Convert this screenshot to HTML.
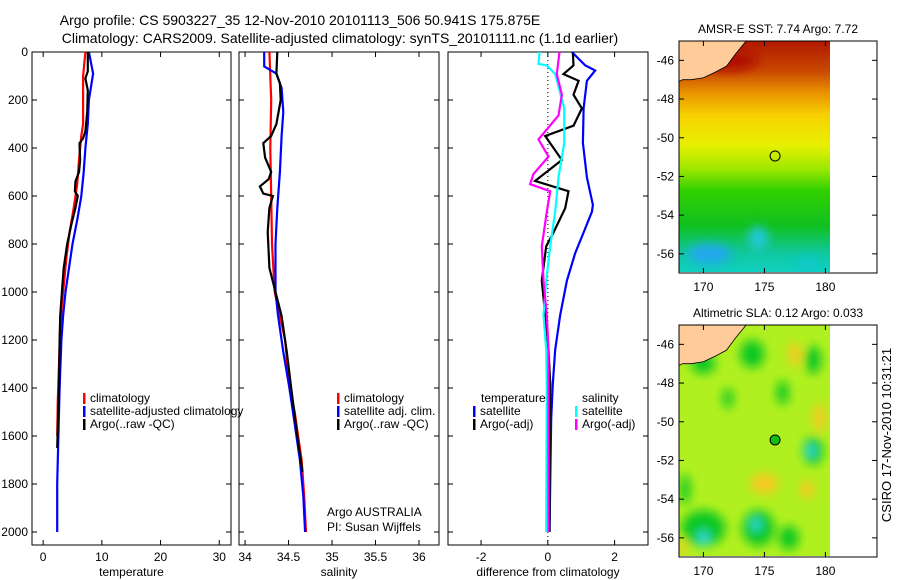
<!DOCTYPE html>
<html><head><meta charset="utf-8"><style>
body{margin:0;background:#fff;}
svg{display:block;font-family:"Liberation Sans",sans-serif;}
</style></head><body>
<svg id="c" width="900" height="580" viewBox="0 0 900 580">
<defs>
<linearGradient id="sstg" x1="0" y1="0" x2="0" y2="1">
<stop offset="0" stop-color="#b01800"/><stop offset="0.13" stop-color="#c84800"/><stop offset="0.22" stop-color="#e89000"/><stop offset="0.32" stop-color="#f8d000"/><stop offset="0.45" stop-color="#e8f000"/><stop offset="0.55" stop-color="#a0e800"/><stop offset="0.65" stop-color="#30d000"/><stop offset="0.8" stop-color="#10c020"/><stop offset="0.92" stop-color="#10c8a0"/><stop offset="1" stop-color="#10d0c0"/>
</linearGradient>
<filter id="bl" x="-50%" y="-50%" width="200%" height="200%"><feGaussianBlur stdDeviation="5"/></filter>
<clipPath id="m1"><rect x="679" y="41" width="151" height="231"/></clipPath>
<clipPath id="m2"><rect x="679" y="325" width="151" height="231"/></clipPath>
</defs>
<text x="300" y="25" font-size="14" text-anchor="middle">Argo profile: CS 5903227_35 12-Nov-2010 20101113_506 50.941S 175.875E</text>
<text x="340" y="43" font-size="14" text-anchor="middle">Climatology: CARS2009. Satellite-adjusted climatology: synTS_20101111.nc (1.1d earlier)</text>
<g id="panels"></g>
<g id="maps"></g>
<text transform="translate(891,435) rotate(-90)" font-size="13" text-anchor="middle">CSIRO 17-Nov-2010 10:31:21</text>
</svg>
<script>
// ---- data ----
const depthTicks=[0,200,400,600,800,1000,1200,1400,1600,1800,2000];
const tempTicks=[0,10,20,30];
const salTicks=[34,34.5,35,35.5,36];
const diffTicks=[-2,0,2];
const tClimDepth=[0,100,300,350,450,550,650,750,850,950,1050,1150,1300,1450,1600];
const tClim=[7.2,6.8,6.8,6.5,6.1,5.8,5.2,4.5,4.0,3.6,3.2,2.9,2.7,2.5,2.4];
const tSatDepth=[0,90,200,300,400,500,600,700,800,900,1000,1100,1200,1400,1600,1800,2000];
const tSat=[7.8,8.5,7.8,7.6,7.2,6.9,6.5,5.8,5.0,4.4,3.8,3.4,3.1,2.8,2.6,2.4,2.4];
const tArgoDepth=[0,80,110,160,250,330,360,380,450,500,540,580,600,650,720,800,900,1000,1100,1200,1400,1650];
const tArgo=[7.6,7.6,7.2,7.6,7.5,7.2,6.8,6.2,6.3,6.1,5.5,5.4,5.9,5.5,4.8,4.1,3.5,3.2,2.9,2.8,2.7,2.4];
const sClimDepth=[0,200,400,600,800,1000,1100,1200,1400,1500,1600,1700,1850,2000];
const sClim=[34.28,34.30,34.29,34.30,34.31,34.34,34.40,34.46,34.51,34.57,34.61,34.65,34.68,34.70];
const sSatDepth=[0,60,90,150,250,350,500,650,800,1000,1100,1250,1400,1550,1700,1850,2000];
const sSat=[34.22,34.22,34.36,34.42,34.44,34.42,34.40,34.37,34.35,34.35,34.38,34.44,34.51,34.57,34.63,34.67,34.69];
const sArgoDepth=[0,90,130,200,300,350,380,440,500,530,560,590,600,650,750,900,1000,1100,1250,1400,1600,1750];
const sArgo=[34.37,34.36,34.40,34.41,34.36,34.30,34.21,34.23,34.30,34.27,34.17,34.21,34.32,34.28,34.26,34.28,34.35,34.42,34.48,34.53,34.60,34.66];
const dTSatDepth=[0,56,77,120,235,379,522,637,666,752,838,953,1096,1240,1383,1527,2000];
const dTSat=[0.72,1.12,1.42,1.17,1.07,1.05,1.17,1.35,1.32,1.07,0.82,0.57,0.37,0.22,0.15,0.10,0.05];
const dTArgoDepth=[6,56,92,120,178,235,307,350,450,537,580,651,752,809,953,1096,1240,1383,2000];
const dTArgo=[0.75,0.77,0.47,0.92,0.77,1.02,0.77,-0.08,0.42,-0.38,0.62,0.52,0.17,-0.05,-0.18,-0.08,0.02,0.07,0.05];
const dSSatDepth=[0,49,56,92,235,379,522,666,809,953,1096,1240,1383,2000];
const dSSat=[-0.25,-0.28,-0.03,0.22,0.49,0.49,0.32,0.22,0.07,-0.05,-0.13,-0.05,-0.03,-0.05];
const dSArgoDepth=[0,92,178,264,364,436,508,551,580,666,809,953,1096,1240,1383,2000];
const dSArgo=[0.35,0.27,0.42,0.32,-0.28,0.02,-0.43,-0.53,0.07,-0.03,-0.18,-0.13,-0.03,0.02,0.02,0.02];
const sstLatTicks=[-46,-48,-50,-52,-54,-56];
const lonTicks=[170,175,180];
const argoLon=175.875, argoLat=-50.941;

// ---- helpers ----
const NS='http://www.w3.org/2000/svg';
function mk(tag,attrs,parent){const e=document.createElementNS(NS,tag);for(const k in attrs)e.setAttribute(k,attrs[k]);parent.appendChild(e);return e;}
const P=document.getElementById('panels');
const Y0=52,Y1=532,FB=545;
const yD=d=>Y0+(Y1-Y0)*d/2000;

function panel(x0,x1,xmin,xmax,ticks,label,name){
  const g=mk('g',{},P);
  
  
  const sx=v=>x0+(x1-x0)*(v-xmin)/(xmax-xmin);
  const box=mk('rect',{x:x0,y:Y0,width:x1-x0,height:FB-Y0,fill:'none',stroke:'#000','stroke-width':1},g);
  
  
  ticks.forEach(t=>{
    const X=sx(t);
    mk('line',{x1:X,x2:X,y1:Y0,y2:Y0+5,stroke:'#000'},g);
    mk('line',{x1:X,x2:X,y1:FB,y2:FB-5,stroke:'#000'},g);
    const tl=mk('text',{x:X,y:561,'font-size':12,'text-anchor':'middle'},g);
    tl.textContent=t;
    
    
  });
  depthTicks.forEach(d=>{
    mk('line',{x1:x0,x2:x0+5,y1:yD(d),y2:yD(d),stroke:'#000'},g);
    mk('line',{x1:x1,x2:x1-5,y1:yD(d),y2:yD(d),stroke:'#000'},g);
  });
  const xl=mk('text',{x:(x0+x1)/2,y:576,'font-size':12,'text-anchor':'middle'},g);
  xl.textContent=label;
  
  
  return {g,sx};
}
function series(p,vals,depths,color,name){
  const pts=vals.map((v,i)=>p.sx(v).toFixed(1)+','+yD(depths[i]).toFixed(1)).join(' ');
  const l=mk('polyline',{points:pts,fill:'none',stroke:color,'stroke-width':2.2},p.g);
  
  
}
function legend(g,x,y,color,text){
  const r=mk('rect',{x:x,y:y-9,width:2.5,height:11,fill:color},g);
  
  
  const t=mk('text',{x:x+7,y:y,'font-size':12},g);
  t.textContent=text;
  
  
}
depthTicks.forEach(d=>{
  const t=mk('text',{x:28,y:yD(d)+4,'font-size':12,'text-anchor':'end'},P);
  t.textContent=d;
  
  
});

const p1=panel(32,231,-1.9,32,tempTicks,'temperature','temperature-panel');
series(p1,tClim,tClimDepth,'#f00','temp-climatology-line');
series(p1,tSat,tSatDepth,'#00f','temp-satellite-line');
series(p1,tArgo,tArgoDepth,'#000','temp-argo-line');
legend(p1.g,83,402,'#f00','climatology');
legend(p1.g,83,415,'#00f','satellite-adjusted climatology');
legend(p1.g,83,428,'#000','Argo(..raw -QC)');

const p2=panel(239,439,33.93,36.23,salTicks,'salinity','salinity-panel');
series(p2,sClim,sClimDepth,'#f00','sal-climatology-line');
series(p2,sSat,sSatDepth,'#00f','sal-satellite-line');
series(p2,sArgo,sArgoDepth,'#000','sal-argo-line');
legend(p2.g,337,402,'#f00','climatology');
legend(p2.g,337,415,'#00f','satellite adj. clim.');
legend(p2.g,337,428,'#000','Argo(..raw -QC)');
let t=mk('text',{x:327,y:516,'font-size':12},p2.g);t.textContent='Argo AUSTRALIA';


t=mk('text',{x:327,y:531,'font-size':12},p2.g);t.textContent='PI: Susan Wijffels';



const p3=panel(448,648,-2.99,3.0,diffTicks,'difference from climatology','difference-panel');
const zl=mk('line',{x1:p3.sx(0),x2:p3.sx(0),y1:Y0,y2:FB,stroke:'#000','stroke-dasharray':'1,3'},p3.g);


series(p3,dTSat,dTSatDepth,'#00f','diff-temp-satellite-line');
series(p3,dTArgo,dTArgoDepth,'#000','diff-temp-argo-line');
series(p3,dSSat,dSSatDepth,'#0ff','diff-sal-satellite-line');
series(p3,dSArgo,dSArgoDepth,'#f0f','diff-sal-argo-line');
t=mk('text',{x:481,y:402,'font-size':12},p3.g);t.textContent='temperature';


t=mk('text',{x:582,y:402,'font-size':12},p3.g);t.textContent='salinity';


legend(p3.g,473,415,'#00f','satellite');
legend(p3.g,473,428,'#000','Argo(-adj)');
legend(p3.g,575,415,'#0ff','satellite');
legend(p3.g,575,428,'#f0f','Argo(-adj)');

// ---- maps ----
const M=document.getElementById('maps');
function map(top,title,name,clip,fill){
  const g=mk('g',{},M);
  
  
  const lx=v=>679+(v-168)*12.2;
  const ly=v=>top+(-45-v)*19.35;
  const fg=mk('g',{'clip-path':'url(#'+clip+')'},g);
  fill(fg,lx,ly);
  const land=mk('path',{d:`M679 ${top} L${lx(173.5)} ${top} L${lx(172.6)} ${ly(-45.7)} L${lx(171.9)} ${ly(-46.3)} L${lx(171.0)} ${ly(-46.6)} L${lx(170.0)} ${ly(-46.9)} L${lx(169.0)} ${ly(-47.0)} L${lx(168.3)} ${ly(-47.0)} L679 ${ly(-47.1)} Z`,fill:'#ffcc99',stroke:'#000','stroke-width':0.8},g);
  
  
  const fr=mk('rect',{x:679,y:top,width:198,height:232,fill:'none',stroke:'#000'},g);
  
  
  sstLatTicks.forEach(v=>{
    mk('line',{x1:679,x2:684,y1:ly(v),y2:ly(v),stroke:'#000'},g);
    mk('line',{x1:877,x2:872,y1:ly(v),y2:ly(v),stroke:'#000'},g);
    const tl=mk('text',{x:674,y:ly(v)+4,'font-size':12,'text-anchor':'end'},g);
    tl.textContent=v;
    
    
  });
  lonTicks.forEach(v=>{
    mk('line',{x1:lx(v),x2:lx(v),y1:top,y2:top+5,stroke:'#000'},g);
    mk('line',{x1:lx(v),x2:lx(v),y1:top+232,y2:top+227,stroke:'#000'},g);
    const tl=mk('text',{x:lx(v),y:top+250,'font-size':12,'text-anchor':'middle'},g);
    tl.textContent=v;
    
    
  });
  const tt=mk('text',{x:778,y:top-8,'font-size':12,'text-anchor':'middle'},g);
  tt.textContent=title;
  
  
  const c=mk('circle',{cx:lx(argoLon),cy:ly(argoLat),r:5,fill:name==='sla-map'?'#10c010':'none',stroke:'#000'},g);
  
  
}
map(41,'AMSR-E SST: 7.74 Argo: 7.72','sst-map','m1',(g,lx,ly)=>{
  mk('rect',{x:679,y:41,width:151,height:231,fill:'url(#sstg)'},g);
  const b=mk('g',{filter:'url(#bl)'},g);
  mk('ellipse',{cx:lx(170.5),cy:ly(-56),rx:22,ry:10,fill:'#20a8f0'},b);
  mk('ellipse',{cx:lx(174.5),cy:ly(-55.2),rx:10,ry:12,fill:'#20c8d8'},b);
  mk('ellipse',{cx:lx(178.5),cy:ly(-56.5),rx:12,ry:6,fill:'#10c8d0'},b);
  mk('ellipse',{cx:lx(172),cy:ly(-46),rx:30,ry:10,fill:'#b01000'},b);
});
map(325,'Altimetric SLA: 0.12 Argo: 0.033','sla-map','m2',(g,lx,ly)=>{
  mk('rect',{x:679,y:325,width:151,height:231,fill:'#b0f020'},g);
  const b=mk('g',{filter:'url(#bl)'},g);
  [[174,-46.5,12,14],[179,-46.8,8,14],[170,-47,12,10],[176.5,-48.5,6,12],[172,-48.8,5,10],[170,-55.5,22,18],[174.5,-55.5,16,18],[177,-56,10,12],[179,-51.5,10,14],[168.5,-53.5,5,15]].forEach(e=>mk('ellipse',{cx:lx(e[0]),cy:ly(e[1]),rx:e[2],ry:e[3],fill:'#10c820'},b));
  [[177.5,-46.5,6,12],[179.5,-49.8,6,14],[175,-53.2,14,10],[178.5,-53.5,7,9],[168.2,-56.5,4,8]].forEach(e=>mk('ellipse',{cx:lx(e[0]),cy:ly(e[1]),rx:e[2],ry:e[3],fill:'#f8c820'},b));
  [[170,-56,6,7],[174.3,-55.3,5,7],[178.8,-51.5,5,7]].forEach(e=>mk('ellipse',{cx:lx(e[0]),cy:ly(e[1]),rx:e[2],ry:e[3],fill:'#30d8e0'},b));
});
</script>
</body></html>
